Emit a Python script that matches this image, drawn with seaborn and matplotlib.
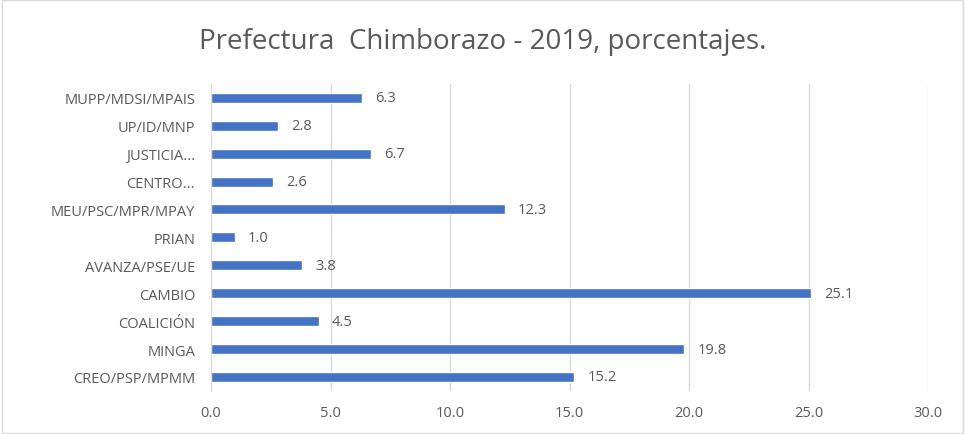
import pandas as pd
import matplotlib.pyplot as plt
import seaborn as sns
from matplotlib.patches import Rectangle

partidos = ['MUPP/MDSI/MPAIS', 'UP/ID/MNP', 'JUSTICIA...', 'CENTRO...', 'MEU/PSC/MPR/MPAY',
            'PRIAN', 'AVANZA/PSE/UE', 'CAMBIO', 'COALICIÓN', 'MINGA', 'CREO/PSP/MPMM']
porcentajes = [6.3, 2.8, 6.7, 2.6, 12.3, 1.0, 3.8, 25.1, 4.5, 19.8, 15.2]
ticks_x = [0, 5, 10, 15, 20, 25, 30]

df = pd.DataFrame({'partido': partidos, 'porcentaje': porcentajes})

sns.set_style('white')
plt.rcParams['font.family'] = ['Open Sans', 'DejaVu Sans']
gris = '#595959'

fig = plt.figure(figsize=(9.65, 4.35), dpi=100)
ax = fig.add_axes([0.2187, 0.099, 0.743, 0.706])

sns.barplot(data=df, y='partido', x='porcentaje', orient='h', color='#4472C4',
            saturation=1, width=0.36, ax=ax)

for p, v in zip(ax.patches, porcentajes):
    ax.text(p.get_width() + 0.55, p.get_y() + p.get_height() / 2, f'{v:.1f}',
            va='center', ha='left', fontsize=10.5, color=gris)

ax.set_xlim(0, 30)
ax.set_xticks(ticks_x)
ax.set_xticklabels([f'{t:.1f}' for t in ticks_x], fontsize=10.5, color=gris)
ax.tick_params(axis='y', labelsize=10.5, labelcolor=gris, length=0, pad=11.5)
ax.tick_params(axis='x', length=0, pad=10)
ax.set_xlabel('')
ax.set_ylabel('')
ax.xaxis.grid(True, color='#D9D9D9', linewidth=1)
ax.set_axisbelow(True)
for lado in ['top', 'right', 'bottom']:
    ax.spines[lado].set_visible(False)
ax.spines['left'].set_color('#D9D9D9')

fig.text(0.5, 0.903, 'Prefectura  Chimborazo - 2019, porcentajes.', ha='center', va='center',
         fontsize=20, color=gris)

fig.patches.append(Rectangle((0.002, 0.003), 0.996, 0.994, transform=fig.transFigure,
                             fill=False, edgecolor='#D9D9D9', linewidth=1))

plt.savefig('out.png', dpi=100)
plt.close()
